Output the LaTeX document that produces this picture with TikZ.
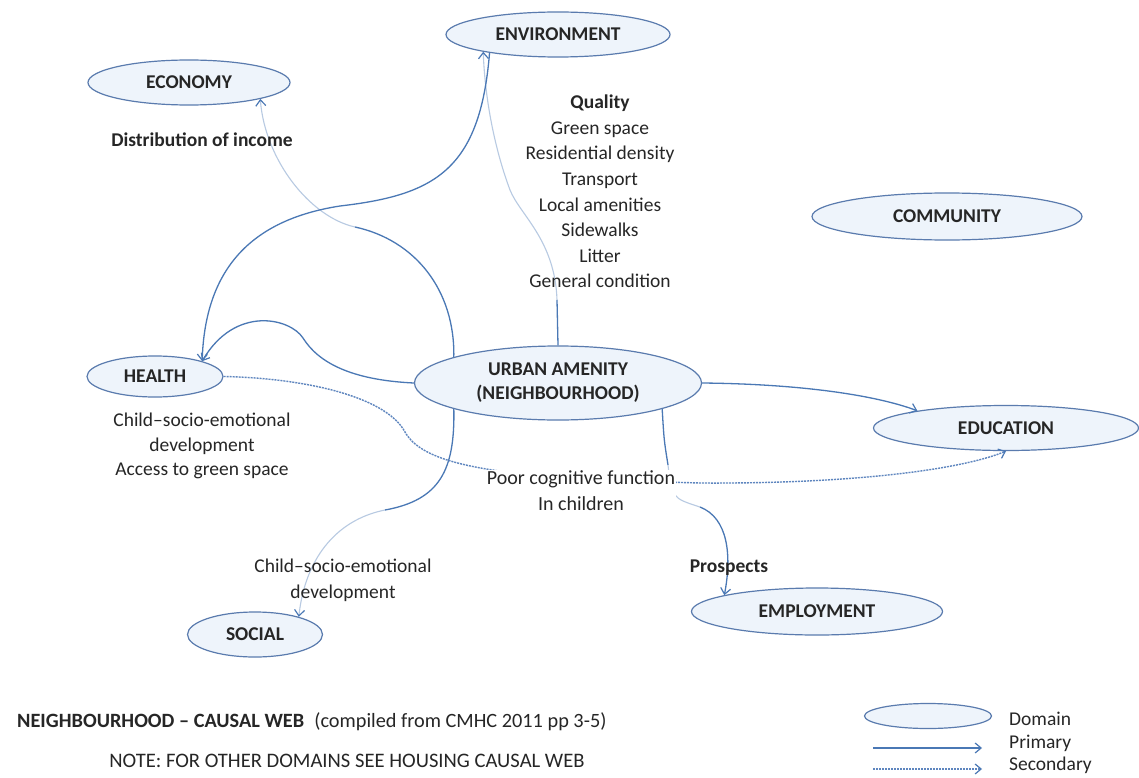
\documentclass[tikz,border=0pt]{standalone}
\usepackage{fontspec}
\setmainfont{Carlito}
\usetikzlibrary{shapes.geometric,arrows.meta}

\definecolor{ink}{HTML}{262626}
\definecolor{rim}{HTML}{5A7BAE}
\definecolor{pale}{HTML}{EEF4FB}
\definecolor{prim}{HTML}{4A78B5}
\definecolor{faint}{HTML}{B8CAE2}
\definecolor{sec}{HTML}{5F86BF}

\tikzset{
  dom/.style={ellipse, draw=rim, fill=pale, line width=1.2pt, inner sep=0pt,
    font=\fontsize{19.5}{22}\selectfont\bfseries, text=ink},
  lbl/.style={align=center, font=\fontsize{19.5}{25.6}\selectfont, text=ink, inner sep=1pt},
  boldlbl/.style={lbl, font=\fontsize{19.5}{25.6}\selectfont\bfseries},
  barbtip/.style={-{Straight Barb[length=6pt,width=10pt,line width=1.2pt,color=prim]}},
  primline/.style={draw=prim, line width=1.3pt},
  fadeline/.style={draw=faint, line width=1.1pt},
  secline/.style={draw=sec, line width=1.4pt, dash pattern=on 2pt off 1pt},
}

\begin{document}
\begin{tikzpicture}[x=1pt,y=-1pt]
  \fill[white] (0,0) rectangle (1139,778);
  \useasboundingbox (0,0) rectangle (1139,778);

  % domains
  \node[dom, minimum width=202pt, minimum height=45pt] (eco) at (189,82.5) {ECONOMY};
  \node[dom, minimum width=224pt, minimum height=45pt] (env) at (558,34.5) {ENVIRONMENT};
  \node[dom, minimum width=270pt, minimum height=47pt] (com) at (947,216.5) {COMMUNITY};
  \node[dom, minimum width=136pt, minimum height=41pt] (hea) at (155,376.5) {HEALTH};
  \node[dom, minimum width=287pt, minimum height=74pt, align=center] (urb) at (558,383)
    {URBAN AMENITY\\[2pt](NEIGHBOURHOOD)};
  \node[dom, minimum width=265pt, minimum height=45pt] (edu) at (1006,428) {EDUCATION};
  \node[dom, minimum width=135pt, minimum height=45pt] (soc) at (255,634.5) {SOCIAL};
  \node[dom, minimum width=251pt, minimum height=47pt] (emp) at (817,611.5) {EMPLOYMENT};

  % urban amenity -> economy
  \draw[primline] (urb.166) .. controls (455,290) and (415,240) .. (355,227) coordinate (ue);
  \draw[fadeline, barbtip] (ue) .. controls (310,217) and (265,160) .. (eco.-13);

  % urban amenity -> environment
  \draw[primline] (urb.north) -- (557,300) coordinate (uv);
  \draw[fadeline, barbtip] (uv) .. controls (555,240) and (520,215) .. (510,190)
    .. controls (495,150) and (485,100) .. (env.193);

  % environment -> health
  \draw[primline, barbtip] (env.195) .. controls (480,170) and (435,195) .. (340,206)
    .. controls (250,220) and (205,270) .. (hea.18);

  % urban amenity -> health
  \draw[primline, barbtip] (urb.west) .. controls (350,380) and (318,362) .. (303,338)
    .. controls (290,318) and (235,305) .. (hea.18);

  % urban amenity -> social
  \draw[primline] (urb.194) .. controls (455,470) and (440,500) .. (385,510) coordinate (us);
  \draw[fadeline, barbtip] (us) .. controls (335,520) and (305,560) .. (soc.22);

  % urban amenity -> education
  \draw[primline, barbtip] (urb.east) .. controls (800,384) and (875,395) .. (edu.169);

  % urban amenity -> employment
  \draw[primline] (urb.346) .. controls (664,440) .. (668,465) coordinate (um1);
  \draw[fadeline] (um1) .. controls (672,498) .. (700,507) coordinate (um2);
  \draw[primline, barbtip] (um2) .. controls (728,518) and (732,555) .. (emp.170);

  % health -> education (secondary)
  \draw[secline, barbtip] (hea.east) .. controls (300,378) and (385,395) .. (405,432)
    .. controls (422,462) and (480,472) .. (590,480) -- (700,483)
    .. controls (850,484) and (960,470) .. (edu.south);

  % labels
  \node[boldlbl] (dist) at (202,140) {Distribution of income};
  \node[lbl] (qual) at (600,191.5) {\textbf{Quality}\\Green space\\Residential density\\Transport\\
    Local amenities\\Sidewalks\\Litter\\General condition};
  \node[lbl, font=\fontsize{19.5}{24.5}\selectfont] (heatxt) at (202,446)
    {Child–socio-emotional\\development\\Access to green space};
  \node[lbl, fill=white, font=\fontsize{20}{26}\selectfont] (poor) at (581,491)
    {Poor cognitive function\\In children};
  \node[lbl, font=\fontsize{19.5}{26}\selectfont] (soctxt) at (343,580)
    {Child–socio-emotional\\development};
  \node[boldlbl] (pros) at (729,568) {Prospects};

  % caption
  \node[lbl, anchor=west, font=\fontsize{20.3}{24}\selectfont] (title) at (16,722)
    {\textbf{NEIGHBOURHOOD – CAUSAL WEB}\enspace(compiled from CMHC 2011 pp 3-5)};
  \node[lbl, font=\fontsize{20.6}{24}\selectfont] (note) at (347,761)
    {NOTE: FOR OTHER DOMAINS SEE HOUSING CAUSAL WEB};

  % legend
  \node[dom, minimum width=127pt, minimum height=25pt] (legdom) at (928,716) {};
  \coordinate (lpa) at (873,748);
  \coordinate (lpb) at (982,748);
  \coordinate (lsa) at (873,769);
  \coordinate (lsb) at (982,769);
  \draw[primline, barbtip] (lpa) -- (lpb);
  \draw[secline, barbtip] (lsa) -- (lsb);
  \node[lbl, anchor=west] (ldom) at (1008,719) {Domain};
  \node[lbl, anchor=west] (lpri) at (1008,743) {Primary};
  \node[lbl, anchor=west] (lsec) at (1008,765) {Secondary};
\end{tikzpicture}
\end{document}
